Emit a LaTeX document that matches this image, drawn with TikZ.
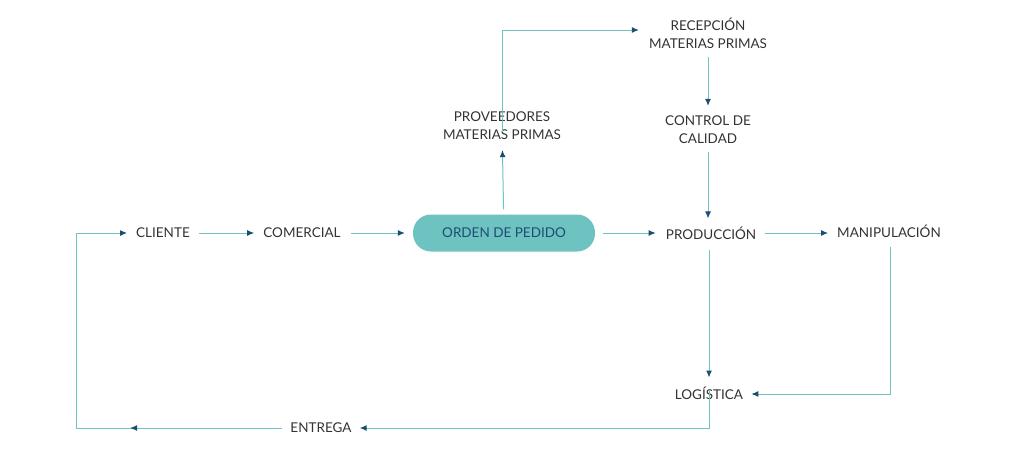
\documentclass[tikz,border=0pt]{standalone}
\usepackage{fontspec}
\setmainfont{Lato}
\usetikzlibrary{arrows.meta,decorations.markings}
\definecolor{linea}{HTML}{6EC3C1}
\definecolor{punta}{HTML}{1B4F72}
\definecolor{texto}{HTML}{333333}
\tikzset{>={Latex[length=7pt,width=6pt,color=punta]}}

\begin{document}
\begin{tikzpicture}[x=1pt,y=-1pt,
    etapa/.style={text=texto, font=\fontsize{13.5}{18}\selectfont, align=center, inner sep=0pt},
    orden/.style={etapa, fill=linea, text=punta, rounded corners=18pt, minimum width=182pt, minimum height=37pt},
    flujo/.style={->, draw=linea, line width=1pt},
    medio/.style={postaction={decorate}, decoration={markings, mark=at position #1 with {\arrow{>}}}}]

    \useasboundingbox (0,0) rectangle (1024,453);

    % Etapas
    \node[etapa] (cliente) at (163,233) {CLIENTE};
    \node[etapa] (comercial) at (302,233) {COMERCIAL};
    \node[orden] (pedido) at (504,233) {ORDEN DE PEDIDO};
    \node[etapa] (proveedores) at (502,126) {PROVEEDORES\\MATERIAS PRIMAS};
    \node[etapa] (recepcion) at (708,33) {RECEPCIÓN\\MATERIAS PRIMAS};
    \node[etapa] (control) at (708,130) {CONTROL DE\\CALIDAD};
    \node[etapa] (produccion) at (711,233) {PRODUCCIÓN};
    \node[etapa] (manipulacion) at (889,231) {MANIPULACIÓN};
    \node[etapa] (logistica) at (709,393) {LOGÍSTICA};
    \node[etapa] (entrega) at (321,428) {ENTREGA};

    % Esquinas
    \coordinate (c1) at (502,30);
    \coordinate (c2) at (890,394);
    \coordinate (c3) at (709,428);
    \coordinate (c4) at (76,428);
    \coordinate (c5) at (76,233);

    % Flujos
    \draw[flujo, shorten <=9pt, shorten >=9pt] (cliente) -- (comercial);
    \draw[flujo, shorten <=10pt, shorten >=8pt] (comercial) -- (pedido);
    \draw[flujo, shorten <=8pt, shorten >=10pt] (pedido) -- (produccion);
    \draw[flujo, shorten <=5pt, shorten >=10pt] (pedido) -- (proveedores);
    \draw[flujo, shorten >=10pt] ([yshift=-20pt]proveedores.north) -- (c1) -- (recepcion.west |- c1);
    \draw[flujo, shorten <=8pt, shorten >=10pt] (recepcion) -- (control);
    \draw[flujo, shorten <=8pt, shorten >=8pt] (control) -- (produccion.north -| control);
    \draw[flujo, shorten <=9pt, shorten >=9pt] (produccion) -- (manipulacion.west |- produccion);
    \draw[flujo, shorten <=10pt, shorten >=9pt] (produccion.south -| logistica) -- (logistica);
    \draw[flujo, shorten >=8pt] (manipulacion.south -| c2) ++(0,9) -- (c2) -- (logistica.east |- c2);
    \draw[flujo, shorten >=8pt] ([yshift=10pt]logistica.south) -- (c3) -- (entrega.east |- c3);
    \draw[flujo, shorten >=9pt, medio=0.33] ([xshift=-8pt]entrega.west) -- (c4) -- (c5) -- (cliente.west);

\end{tikzpicture}
\end{document}
